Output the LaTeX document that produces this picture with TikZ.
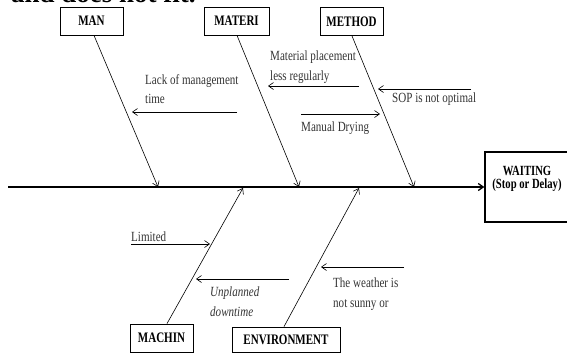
\documentclass[tikz,border=0pt]{standalone}
\usepackage{fontspec}
\setmainfont{Liberation Serif}
\newfontfamily\narrowserif[FakeStretch=0.79]{Liberation Serif}
\newfontfamily\narrowbold[FakeStretch=0.76,UprightFont={* Bold}]{Liberation Serif}
\usetikzlibrary{arrows.meta,calc}

\begin{document}
\begin{tikzpicture}[x=1pt,y=-1pt,
  catbox/.style={draw,line width=0.8pt,minimum height=28pt,inner sep=0pt,
    font=\narrowbold\fontsize{14.5}{15}\selectfont},
  cause/.style={font=\narrowserif\fontsize{14}{19.5}\selectfont,text=black!80,
    align=left,inner sep=0pt,anchor=north west},
  tipstyle/.style={-{Straight Barb[length=5pt,width=7pt]}},
  bone/.style={tipstyle,line width=0.6pt},
  subcause/.style={tipstyle,line width=0.6pt},
  spine/.style={tipstyle,line width=1.3pt},
]
\useasboundingbox (0,0) rectangle (567,354);
\clip (0,0) rectangle (567,354);

% line of running text above the figure
\node[anchor=base west,inner sep=0pt,font=\fontsize{27}{27}\selectfont\bfseries] (runtext) at (11,2.5) {and does not fit.};

% category boxes
\node[catbox,minimum width=63pt] (man)    at (91.5,21)  {MAN};
\node[catbox,minimum width=65pt] (materi) at (236.5,21) {MATERI};
\node[catbox,minimum width=63pt] (method) at (351.5,21.5) {METHOD};
\node[catbox,minimum width=63pt] (machin) at (161.5,338) {MACHIN};
\node[catbox,minimum width=108pt,minimum height=25pt] (envir) at (286,339.5) {ENVIRONMENT};

% effect box
\node[draw,line width=1.3pt,minimum width=85pt,minimum height=70pt,inner sep=0pt] (waiting) at (527.5,187) {};
\node[anchor=north,inner sep=0pt,align=center,
  font=\narrowbold\fontsize{14}{12.5}\selectfont] (waitlbl) at (527,166.5) {WAITING\\(Stop or Delay)};

% spine
\coordinate (tail) at (8,187);
\draw[spine] (tail) -- (waiting.west);

% bones meeting the spine
\coordinate (manhit)    at (158,187);
\coordinate (materihit) at (299,187);
\coordinate (methodhit) at (414,187);
\coordinate (machinhit) at (243,188);
\coordinate (envirhit)  at (359,188);
\draw[bone] ($(man.south)+(2.5,0)$)    -- (manhit);
\draw[bone] ($(materi.south)+(0.5,0)$) -- (materihit);
\draw[bone] ($(method.south)+(0.5,0)$) -- (methodhit);
\draw[bone] ($(machin.north)+(5.5,0)$) -- (machinhit);
\draw[bone] ($(envir.north)+(-2,0)$)   -- (envirhit);

% sub-causes
\coordinate (c1a) at (237,112); \coordinate (c1b) at (132,112);
\coordinate (c2a) at (359,86);  \coordinate (c2b) at (268,86);
\coordinate (c3a) at (471,89);  \coordinate (c3b) at (378,89);
\coordinate (c4a) at (301,114); \coordinate (c4b) at (380,114);
\coordinate (c5a) at (131,244); \coordinate (c5b) at (210,244);
\coordinate (c6a) at (289,279); \coordinate (c6b) at (196,279);
\coordinate (c7a) at (404,267); \coordinate (c7b) at (321,267);
\draw[subcause] (c1a) -- (c1b);
\draw[subcause] (c2a) -- (c2b);
\draw[subcause] (c3a) -- (c3b);
\draw[subcause] (c4a) -- (c4b);
\draw[subcause] (c5a) -- (c5b);
\draw[subcause] (c6a) -- (c6b);
\draw[subcause] (c7a) -- (c7b);

\node[cause] (t1) at (145,74)  {Lack of management\\time};
\node[cause] (t2) at (270,51)  {Material placement\\less regularly};
\node[cause] (t3) at (392,93)  {SOP is not optimal};
\node[cause] (t4) at (301,122) {Manual Drying};
\node[cause] (t5) at (131,232) {Limited};
\node[cause,font=\narrowserif\itshape\fontsize{14}{19.5}\selectfont] (t6) at (210,287) {Unplanned\\downtime};
\node[cause] (t7) at (333,278) {The weather is\\not sunny or};
\end{tikzpicture}
\end{document}
